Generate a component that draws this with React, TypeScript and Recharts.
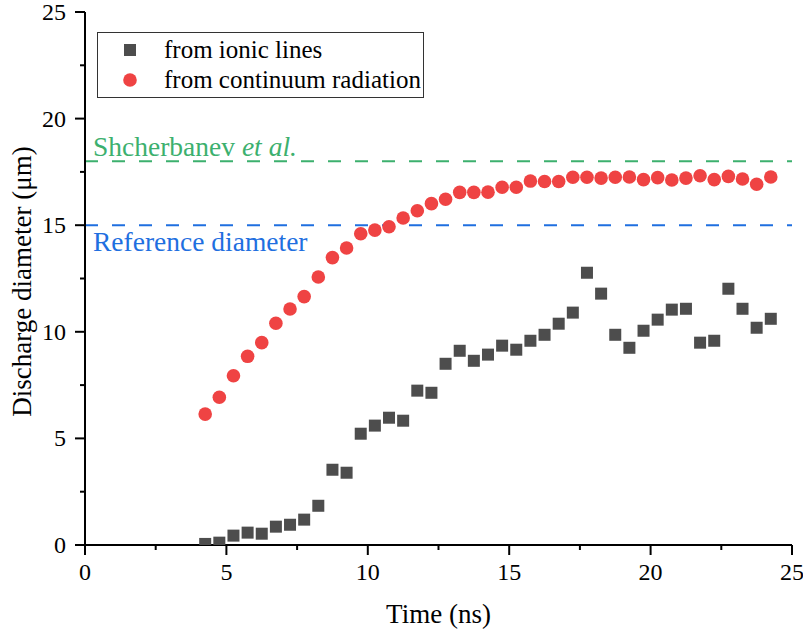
import React from 'react';
import { ScatterChart, Scatter, XAxis, YAxis, ReferenceLine, Legend, Label } from 'recharts';

const FONT = 'Liberation Serif, Times New Roman, DejaVu Serif, serif';

// time of each frame (ns)
const TIME = [
  4.25, 4.75, 5.25, 5.75, 6.25, 6.75, 7.25, 7.75, 8.25, 8.75, 9.25, 9.75, 10.25, 10.75,
  11.25, 11.75, 12.25, 12.75, 13.25, 13.75, 14.25, 14.75, 15.25, 15.75, 16.25, 16.75,
  17.25, 17.75, 18.25, 18.75, 19.25, 19.75, 20.25, 20.75, 21.25, 21.75, 22.25, 22.75,
  23.25, 23.75, 24.25,
];

// diameter from ionic lines (µm)
const IONIC = [
  0.05, 0.11, 0.44, 0.58, 0.53, 0.86, 0.95, 1.19, 1.84, 3.53, 3.39, 5.22, 5.6, 5.97,
  5.83, 7.24, 7.14, 8.5, 9.11, 8.64, 8.93, 9.35, 9.16, 9.58, 9.86, 10.38, 10.9, 12.77,
  11.79, 9.86, 9.25, 10.05, 10.57, 11.04, 11.08, 9.49, 9.58, 12.02, 11.08, 10.19, 10.61,
];

// diameter from continuum radiation (µm)
const CONTINUUM = [
  6.14, 6.93, 7.94, 8.85, 9.49, 10.4, 11.07, 11.65, 12.57, 13.48, 13.93, 14.6, 14.77, 14.93,
  15.34, 15.68, 16.01, 16.22, 16.54, 16.54, 16.55, 16.78, 16.78, 17.07, 17.05, 17.05,
  17.25, 17.25, 17.21, 17.25, 17.26, 17.14, 17.23, 17.12, 17.21, 17.32, 17.14, 17.29,
  17.17, 16.92, 17.26,
];

const TICKS = [0, 2.5, 5, 7.5, 10, 12.5, 15, 17.5, 20, 22.5, 25];
const SHCHERBANEV = 18;
const REFERENCE = 15;

const SERIES = [
  { name: 'from ionic lines', color: '#4d4d4d', shape: 'square', values: IONIC },
  { name: 'from continuum radiation', color: '#ef4343', shape: 'circle', values: CONTINUUM },
];

const GREEN = '#3cb06e';
const BLUE = '#1f6fe0';

const tickLen = (v: number) => (v % 5 === 0 ? 10 : 5);

const Marker = ({ shape, color, cx, cy }: { shape: string; color: string; cx: number; cy: number }) =>
  shape === 'square' ? (
    <rect x={cx - 6} y={cy - 6} width={12} height={12} fill={color} />
  ) : (
    <circle cx={cx} cy={cy} r={6.8} fill={color} />
  );

const BottomTick = ({ x, y, payload }: any) => (
  <g>
    <line x1={x} x2={x} y1={y} y2={y + tickLen(payload.value)} stroke="#000" strokeWidth={2} />
    {payload.value % 5 === 0 && (
      <text x={x} y={y + 35} textAnchor="middle" fontSize={24} fontFamily={FONT} fill="#000">
        {payload.value}
      </text>
    )}
  </g>
);

const LeftTick = ({ x, y, payload }: any) => (
  <g>
    <line x1={x} x2={x - tickLen(payload.value)} y1={y} y2={y} stroke="#000" strokeWidth={2} />
    {payload.value % 5 === 0 && (
      <text x={x - 19} y={y + 8} textAnchor="end" fontSize={24} fontFamily={FONT} fill="#000">
        {payload.value}
      </text>
    )}
  </g>
);

const TopTick = ({ x, y, payload }: any) => (
  <line x1={x} x2={x} y1={y} y2={y + tickLen(payload.value)} stroke="#000" strokeWidth={2} />
);

const RightTick = ({ x, y, payload }: any) => (
  <line x1={x} x2={x - tickLen(payload.value)} y1={y} y2={y} stroke="#000" strokeWidth={2} />
);

const LegendBox = () => (
  <div
    style={{
      width: 327,
      height: 66,
      boxSizing: 'border-box',
      border: '1px solid #333',
      background: '#fff',
      fontFamily: FONT,
      fontSize: 25,
      color: '#000',
      paddingTop: 2,
    }}
  >
    {SERIES.map((s) => (
      <div key={s.name} style={{ display: 'flex', alignItems: 'center', height: 30 }}>
        <svg width={66} height={30}>
          <Marker shape={s.shape} color={s.color} cx={32} cy={15} />
        </svg>
        <span style={{ lineHeight: '30px', whiteSpace: 'nowrap' }}>{s.name}</span>
      </div>
    ))}
  </div>
);

export default function App() {
  const data = SERIES.map((s) => TIME.map((t, i) => ({ t, d: s.values[i] })));
  const axisLine = { stroke: '#000', strokeWidth: 2 };

  return (
    <div style={{ position: 'absolute', left: 0, top: 0, fontFamily: FONT }}>
      <ScatterChart width={803} height={637} margin={{ top: 12, right: 11, bottom: 0, left: 0 }}>
        <XAxis
          type="number"
          dataKey="t"
          domain={[0, 25]}
          ticks={TICKS}
          interval={0}
          allowDataOverflow
          height={92}
          tickSize={0}
          tickMargin={0}
          tickLine={false}
          axisLine={axisLine}
          tick={<BottomTick />}
        >
          <Label
            content={({ viewBox }: any) => (
              <text
                x={viewBox.x + viewBox.width / 2}
                y={viewBox.y + 78}
                textAnchor="middle"
                fontSize={27}
                fontFamily={FONT}
                fill="#000"
              >
                Time (ns)
              </text>
            )}
          />
        </XAxis>
        <XAxis
          xAxisId="top"
          orientation="top"
          type="number"
          domain={[0, 25]}
          ticks={TICKS}
          interval={0}
          allowDataOverflow
          height={0}
          tickSize={0}
          tickMargin={0}
          tickLine={false}
          axisLine={axisLine}
          tick={<TopTick />}
        />
        <YAxis
          type="number"
          dataKey="d"
          domain={[0, 25]}
          ticks={TICKS}
          interval={0}
          allowDataOverflow
          width={85}
          tickSize={0}
          tickMargin={0}
          tickLine={false}
          axisLine={axisLine}
          tick={<LeftTick />}
        >
          <Label
            content={({ viewBox }: any) => {
              const cx = viewBox.x + 31;
              const cy = viewBox.y + viewBox.height / 2 + 3;
              return (
                <text
                  x={cx}
                  y={cy}
                  transform={`rotate(-90 ${cx} ${cy})`}
                  textAnchor="middle"
                  fontSize={27}
                  fontFamily={FONT}
                  fill="#000"
                >
                  Discharge diameter (μm)
                </text>
              );
            }}
          />
        </YAxis>
        <YAxis
          yAxisId="right"
          orientation="right"
          type="number"
          domain={[0, 25]}
          ticks={TICKS}
          interval={0}
          allowDataOverflow
          width={0}
          tickSize={0}
          tickMargin={0}
          tickLine={false}
          axisLine={axisLine}
          tick={<RightTick />}
        />
        <ReferenceLine
          y={SHCHERBANEV}
          stroke={GREEN}
          strokeWidth={2}
          strokeDasharray="13 14"
          label={({ viewBox }: any) => (
            <text x={viewBox.x + 8} y={viewBox.y - 5} fontSize={27.5} fontFamily={FONT} fill={GREEN}>
              Shcherbanev <tspan fontStyle="italic">et al.</tspan>
            </text>
          )}
        />
        <ReferenceLine
          y={REFERENCE}
          stroke={BLUE}
          strokeWidth={2}
          strokeDasharray="13 14"
          label={({ viewBox }: any) => (
            <text x={viewBox.x + 8} y={viewBox.y + 26} fontSize={27.5} fontFamily={FONT} fill={BLUE}>
              Reference diameter
            </text>
          )}
        />
        {SERIES.map((s, i) => (
          <Scatter
            key={s.name}
            name={s.name}
            data={data[i]}
            fill={s.color}
            shape={(p: any) => <Marker shape={s.shape} color={s.color} cx={p.cx} cy={p.cy} />}
            isAnimationActive={false}
          />
        ))}
        <Legend
          layout="vertical"
          align="center"
          verticalAlign="middle"
          width={327}
          height={66}
          wrapperStyle={{ left: 97, top: 32 }}
          content={() => <LegendBox />}
        />
      </ScatterChart>
    </div>
  );
}
